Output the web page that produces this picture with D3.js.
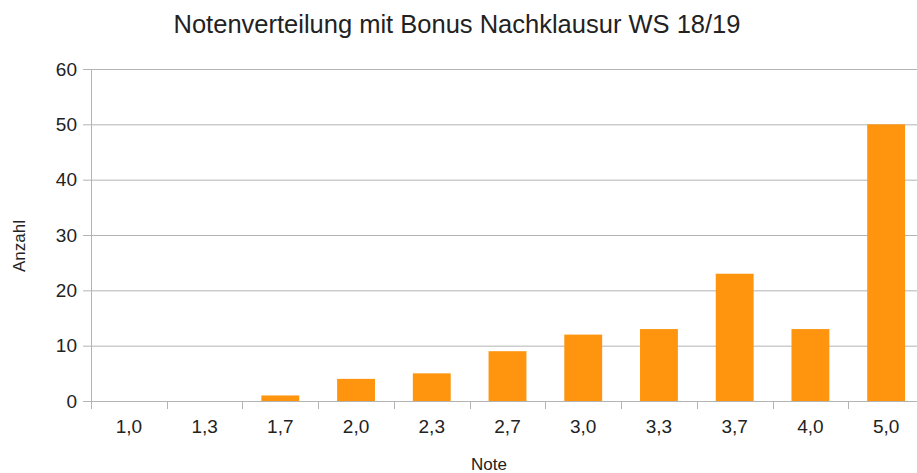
<!DOCTYPE html>
<html>
<head>
<meta charset="utf-8">
<script src="https://cdn.jsdelivr.net/npm/d3@7"></script>
<style>
body{margin:0;background:#fff;}
text{font-family:"Liberation Sans",Arial,sans-serif;fill:#222;}
</style>
</head>
<body>
<div id="chart"></div>
<script>
var width=917;
var height=473;

var categories=['1,0','1,3','1,7','2,0','2,3','2,7','3,0','3,3','3,7','4,0','5,0'];
var counts=[0,0,1,4,5,9,12,13,23,13,50];
var yTicks=[0,10,20,30,40,50,60];

var margin={top:69,right:-7,bottom:72,left:91};
var svg=d3.select('#chart').append('svg').attr('width',width).attr('height',height);

var x=d3.scaleBand().domain(categories).range([margin.left,width-margin.right]).paddingInner(0.5).paddingOuter(0.25);
var y=d3.scaleLinear().domain([0,60]).range([height-margin.bottom,margin.top]);

// gridlines
svg.append('g').selectAll('line').data(yTicks).enter().append('line')
	.attr('x1',83).attr('x2',width-margin.right)
	.attr('y1',function(d){return y(d)+0.5;}).attr('y2',function(d){return y(d)+0.5;})
	.attr('stroke','#b3b3b3').attr('stroke-width',1);

// y labels
svg.append('g').selectAll('text').data(yTicks).enter().append('text')
	.attr('x',77).attr('y',function(d){return y(d);}).attr('dy','0.35em')
	.attr('text-anchor','end').style('font-size','19px').text(function(d){return d;});

// y axis line
svg.append('line').attr('x1',margin.left+0.5).attr('x2',margin.left+0.5)
	.attr('y1',margin.top).attr('y2',y(0)+8).attr('stroke','#b3b3b3');

// x ticks between categories
var step=x.step();
var tickPos=d3.range(categories.length).map(function(i){return margin.left+step*(i+1);});
svg.append('g').selectAll('line').data(tickPos).enter().append('line')
	.attr('x1',function(d){return Math.round(d)+0.5;}).attr('x2',function(d){return Math.round(d)+0.5;})
	.attr('y1',y(0)).attr('y2',y(0)+8).attr('stroke','#b3b3b3');

// bars
svg.append('g').selectAll('rect').data(counts).enter().append('rect')
	.attr('x',function(d,i){return x(categories[i]);})
	.attr('width',x.bandwidth())
	.attr('y',function(d){return y(d);})
	.attr('height',function(d){return y(0)-y(d);})
	.attr('fill','#ff950e');

// x labels
svg.append('g').selectAll('text').data(categories).enter().append('text')
	.attr('x',function(d){return x(d)+x.bandwidth()/2;}).attr('y',y(0)+32)
	.attr('text-anchor','middle').style('font-size','19px').text(function(d){return d;});

svg.append('text').attr('x',457).attr('y',33).attr('text-anchor','middle')
	.style('font-size','25.5px').text('Notenverteilung mit Bonus Nachklausur WS 18/19');

svg.append('text').attr('x',489).attr('y',470).attr('text-anchor','middle')
	.style('font-size','17px').text('Note');

svg.append('text').attr('transform','translate(25,246) rotate(-90)')
	.attr('text-anchor','middle').style('font-size','17px').text('Anzahl');
</script>
</body>
</html>
